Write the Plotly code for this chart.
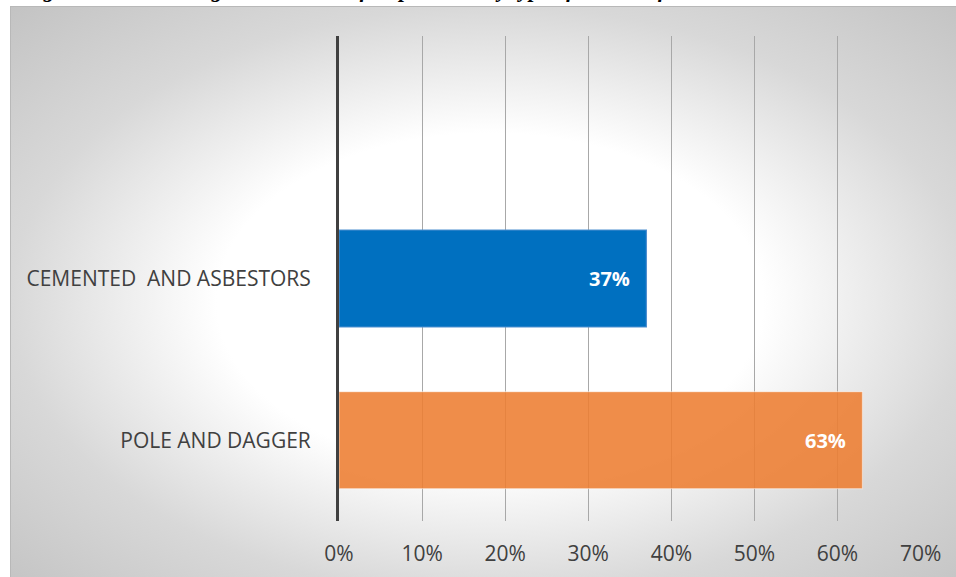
import base64
import plotly.graph_objects as go

# Share of respondents by house type (percent)
categories = ["POLE AND DAGGER", "CEMENTED \u00a0AND ASBESTORS", " "]
shares = [63, 37, None]
bar_colors = ["rgba(237,125,49,0.88)", "#0070C0", "rgba(0,0,0,0)"]
bar_edges = ["rgba(255,255,255,0.45)", "#4F8FD0", "rgba(0,0,0,0)"]
x_ticks = [0, 10, 20, 30, 40, 50, 60, 70]
title_text = "Figure 4.4: Percentage distribution of respondents by type of houses of the"

W, H = 956, 577
L, R, T, B = 339, 35, 36, 56
plot_w = W - L - R
plot_h = H - T - B

# Radial grey-to-white chart area fill as an SVG backdrop
area_w, area_h = 960, 590
svg = f"""<svg xmlns='http://www.w3.org/2000/svg' width='{area_w}' height='{area_h}' viewBox='0 0 {area_w} {area_h}' preserveAspectRatio='none'>
<defs><radialGradient id='g' cx='0.5' cy='0.5' r='0.75'>
<stop offset='0' stop-color='#ffffff'/>
<stop offset='0.38' stop-color='#ffffff'/>
<stop offset='0.667' stop-color='#d8d8d8'/>
<stop offset='0.943' stop-color='#c3c3c3'/>
<stop offset='1' stop-color='#c0c0c0'/>
</radialGradient></defs>
<rect x='0.5' y='0.5' width='{area_w - 1}' height='{area_h - 1}' fill='url(#g)' stroke='#b8b8b8' stroke-width='1'/>
</svg>"""
svg_uri = "data:image/svg+xml;base64," + base64.b64encode(svg.encode()).decode()

area_x0, area_y0 = 10, 6
img_x = (area_x0 - L) / plot_w
img_y = 1 + (T - area_y0) / plot_h

fig = go.Figure(
    go.Bar(
        y=categories,
        x=shares,
        orientation="h",
        marker=dict(color=bar_colors, line=dict(color=bar_edges, width=1.2)),
        hoverinfo="skip",
    )
)

# Value labels just inside the end of each bar
value_labels = [
    dict(
        x=v,
        y=c,
        xref="x",
        yref="y",
        text=f"<b>{v}%</b>",
        xanchor="right",
        yanchor="middle",
        xshift=-14,
        showarrow=False,
        font=dict(family="Open Sans", size=20, color="white"),
    )
    for c, v in zip(categories, shares)
    if v is not None
]

title_note = dict(
    text=f"<b><i>{title_text}</i></b>",
    xref="paper",
    yref="paper",
    x=(20 - L) / plot_w,
    y=1 + (T - 4) / plot_h,
    xanchor="left",
    yanchor="bottom",
    showarrow=False,
    font=dict(family="Liberation Serif", size=22, color="black"),
)

fig.update_layout(
    width=W,
    height=H,
    margin=dict(l=L, r=R, t=T, b=B, autoexpand=False),
    paper_bgcolor="white",
    plot_bgcolor="rgba(0,0,0,0)",
    bargap=0.4,
    showlegend=False,
    font=dict(family="Open Sans", color="#404040"),
    images=[
        dict(
            source=svg_uri,
            xref="paper",
            yref="paper",
            x=img_x,
            y=img_y,
            sizex=area_w / plot_w,
            sizey=area_h / plot_h,
            xanchor="left",
            yanchor="top",
            sizing="stretch",
            layer="below",
        )
    ],
    annotations=value_labels + [title_note],
)

fig.update_xaxes(
    range=[0, 70.05],
    tickvals=x_ticks,
    ticktext=[f"{v}%" for v in x_ticks],
    showgrid=True,
    gridcolor="#a8a8a8",
    gridwidth=1,
    zeroline=False,
    showline=False,
    automargin=False,
    ticks="outside",
    ticklen=14,
    tickcolor="rgba(0,0,0,0)",
    tickfont=dict(family="Open Sans", size=21, color="#404040"),
)

fig.update_yaxes(
    categoryorder="array",
    categoryarray=categories,
    range=[-0.5, 2.5],
    showgrid=False,
    zeroline=False,
    showline=True,
    automargin=False,
    linecolor="#404040",
    linewidth=3,
    ticks="outside",
    ticklen=21,
    tickcolor="rgba(0,0,0,0)",
    tickfont=dict(family="Open Sans", size=21, color="#404040"),
)

fig.write_html("out.html")
